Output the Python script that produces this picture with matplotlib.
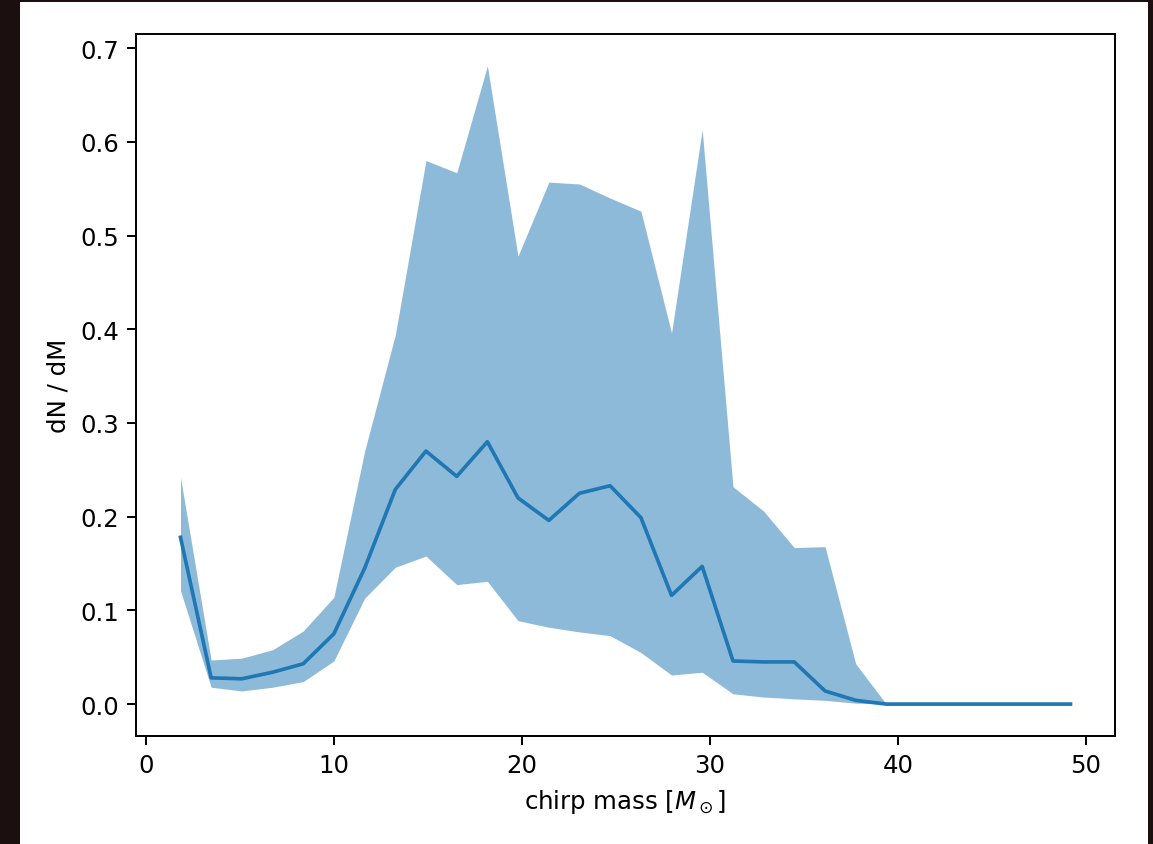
import matplotlib
matplotlib.use("Agg")
import matplotlib.pyplot as plt
from matplotlib.patches import Rectangle

# bin centres of chirp mass [M_sun]
mass = [1.82, 3.45, 5.08, 6.72, 8.35, 9.98, 11.62, 13.25, 14.88, 16.52,
        18.15, 19.78, 21.42, 23.05, 24.68, 26.32, 27.95, 29.58, 31.22, 32.85,
        34.48, 36.12, 37.75, 39.38, 41.02, 42.65, 44.28, 45.92, 47.55, 49.18]

median = [0.178, 0.028, 0.027, 0.034, 0.043, 0.075, 0.145, 0.229, 0.270, 0.243,
          0.280, 0.220, 0.196, 0.225, 0.233, 0.199, 0.116, 0.147, 0.046, 0.045,
          0.045, 0.014, 0.004, 0.0, 0.0, 0.0, 0.0, 0.0, 0.0, 0.0]

upper = [0.242, 0.047, 0.049, 0.058, 0.078, 0.114, 0.27, 0.394, 0.580, 0.567,
         0.681, 0.478, 0.557, 0.555, 0.540, 0.526, 0.396, 0.613, 0.232, 0.206,
         0.167, 0.168, 0.043, 0.0, 0.0, 0.0, 0.0, 0.0, 0.0, 0.0]

lower = [0.121, 0.018, 0.014, 0.018, 0.024, 0.046, 0.113, 0.146, 0.158, 0.1275,
         0.131, 0.089, 0.082, 0.077, 0.073, 0.055, 0.031, 0.034, 0.011, 0.0075,
         0.0056, 0.004, 0.001, 0.0, 0.0, 0.0, 0.0, 0.0, 0.0, 0.0]

S = 1.76  # scale factor relative to matplotlib defaults
plt.rcParams.update({
    "font.size": 10 * S,
    "axes.linewidth": 0.8 * S,
    "xtick.major.width": 0.8 * S,
    "ytick.major.width": 0.8 * S,
    "xtick.major.size": 3.5 * S,
    "ytick.major.size": 3.5 * S,
    "xtick.major.pad": 3.5 * S,
    "ytick.major.pad": 3.5 * S,
    "axes.labelpad": 4.0 * S,
})

W, H = 1153, 845
fig = plt.figure(figsize=(W / 100, H / 100), dpi=100)
fig.patch.set_facecolor("#1b0f0f")
fig.add_artist(Rectangle((20 / W, 0), (1148 - 20) / W, (845 - 3) / H,
                         transform=fig.transFigure, facecolor="white",
                         edgecolor="none", zorder=0))

ax = fig.add_axes([136 / W, 1 - 737 / H, (1115 - 136) / W, (737 - 35) / H])
ax.fill_between(mass, lower, upper, color="C0", alpha=0.5, linewidth=0)
ax.plot(mass, median, color="C0", linewidth=1.5 * S)

ax.set_xlabel(r"chirp mass [$M_\odot$]")
ax.set_ylabel("dN / dM")

fig.savefig("out.png", dpi=100, facecolor=fig.get_facecolor())
